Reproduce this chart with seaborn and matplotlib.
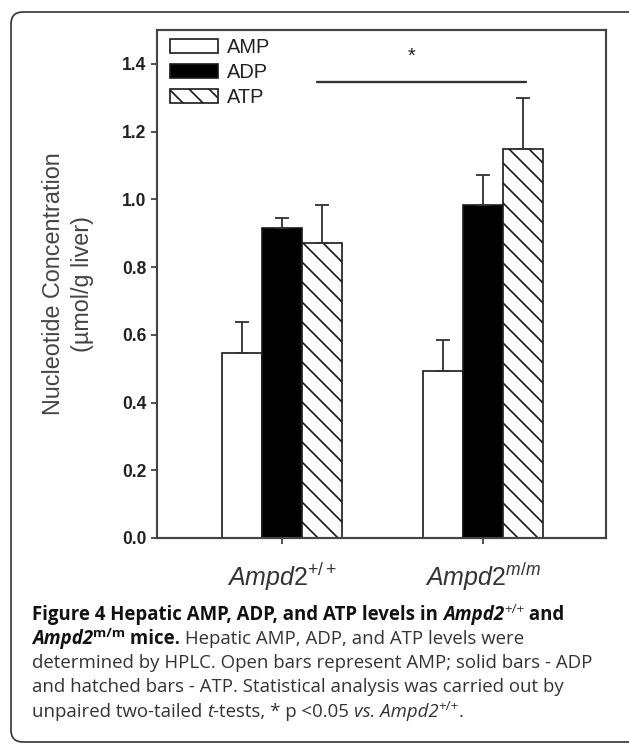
import numpy as np
import pandas as pd
import matplotlib
matplotlib.use("Agg")
import matplotlib.pyplot as plt
import seaborn as sns
from matplotlib.patches import FancyBboxPatch, Patch
from matplotlib.transforms import IdentityTransform

# ---------------- data ----------------
genotypes = ["Ampd2 +/+", "Ampd2 m/m"]
genotype_labels = [r"$\mathit{Ampd2}^{+/+}$", r"$\mathit{Ampd2}^{\mathit{m/m}}$"]
nucleotides = ["AMP", "ADP", "ATP"]
means_wt = [0.545, 0.914, 0.872]
means_mm = [0.492, 0.984, 1.149]
sem_wt = [0.092, 0.032, 0.112]
sem_mm = [0.092, 0.089, 0.151]
y_ticks = [0.0, 0.2, 0.4, 0.6, 0.8, 1.0, 1.2, 1.4]
sig_y = 1.347
sig_x = [0.174, 1.214]

df = pd.DataFrame({
    "genotype": [genotypes[0]] * 3 + [genotypes[1]] * 3,
    "nucleotide": nucleotides * 2,
    "value": means_wt + means_mm,
    "sem": sem_wt + sem_mm,
})

# ---------------- style ----------------
sns.set_theme(style="white")
plt.rcParams["font.family"] = ["Liberation Sans", "DejaVu Sans"]
plt.rcParams["mathtext.fontset"] = "custom"
plt.rcParams["mathtext.it"] = "Liberation Sans:italic"
plt.rcParams["mathtext.rm"] = "Liberation Sans"
plt.rcParams["mathtext.bf"] = "Liberation Sans:bold"
plt.rcParams["hatch.linewidth"] = 1.0
plt.rcParams["hatch.color"] = "#222222"

W, H, DPI = 629, 744, 120
fig = plt.figure(figsize=(W / DPI, H / DPI), dpi=DPI)
ax = fig.add_axes([157 / W, 1 - 538 / H, (606 - 157) / W, (538 - 30) / H])

palette = {"AMP": "white", "ADP": "black", "ATP": "white"}
sns.barplot(data=df, x="genotype", y="value", hue="nucleotide",
            hue_order=nucleotides, order=genotypes, palette=palette,
            saturation=1, width=0.6, gap=0, errorbar=None,
            edgecolor="#1a1a1a", linewidth=1.0, ax=ax, legend=False)

# hatching + error bars (upper only)
for nuc, cont in zip(nucleotides, ax.containers):
    sub = df[df["nucleotide"] == nuc].set_index("genotype").loc[genotypes]
    xs, ys = [], []
    for bar in cont:
        xs.append(bar.get_x() + bar.get_width() / 2)
        ys.append(bar.get_height())
        if nuc == "ATP":
            bar.set_hatch("\\\\")
    errs = sub["sem"].values
    ax.errorbar(xs, ys, yerr=[np.zeros_like(errs), errs], fmt="none",
                ecolor="#333333", elinewidth=1.1, capsize=4.2, capthick=1.1,
                zorder=1)

ax.set_xlim(-0.622, 1.612)
ax.set_ylim(0, 1.5)
ax.set_yticks(y_ticks)
ax.set_yticklabels([f"{v:.1f}" for v in y_ticks], fontweight="bold", fontsize=10.5, color="#222222")
ax.set_xticks([0, 1])
ax.set_xticklabels(genotype_labels, fontsize=15, color="#333333")
ax.tick_params(axis="both", direction="out", length=3.8, width=1.0, color="#333333",
               bottom=True, left=True, top=False, right=False)
ax.tick_params(axis="y", pad=2.5)
ax.tick_params(axis="x", pad=10)
for sp in ax.spines.values():
    sp.set_visible(True)
    sp.set_color("#444444")
    sp.set_linewidth(1.3)

ax.set_xlabel("")
ax.set_ylabel("Nucleotide Concentration\n(µmol/g liver)", fontsize=14,
              color="#444444", linespacing=1.3, labelpad=17)

# significance marker
ax.plot(sig_x, [sig_y, sig_y], color="#333333", lw=1.4)
ax.text(0.647, 1.395, "*", fontsize=12, ha="center", va="bottom", color="#222222")

# legend
handles = [Patch(facecolor=palette[n], edgecolor="#1a1a1a", linewidth=1.0,
                 hatch=("\\\\" if n == "ATP" else None)) for n in nucleotides]
ax.legend(handles, nucleotides, loc="upper left", bbox_to_anchor=(-0.008, 1.018),
          frameon=False, fontsize=12, handlelength=2.4, handleheight=0.7,
          handletextpad=0.45, labelspacing=0.3, borderpad=0.35,
          labelcolor="#222222")

# rounded border (right side runs past the image edge)
fig.patches.append(FancyBboxPatch((11, 2), 660, 730, boxstyle="round,pad=0,rounding_size=12",
                                  transform=IdentityTransform(), fill=False,
                                  edgecolor="#333333", linewidth=1.0, clip_on=False))

# caption
renderer = fig.canvas.get_renderer()
CFS = 11.2
CAP_FAM = ["Open Sans", "DejaVu Sans"]

def put_runs(runs, x0, y_base):
    x = x0
    for txt, weight, style, sup in runs:
        fs = CFS * (0.72 if sup else 1.0)
        dy = 7 if sup else 0
        t = fig.text(x, y_base + dy, txt, transform=IdentityTransform(),
                     fontsize=fs, fontweight=weight, fontstyle=style,
                     family=CAP_FAM, color="#333333" if weight == "normal" else "#111111",
                     ha="left", va="baseline")
        bb = t.get_window_extent(renderer)
        x = bb.x1

lines = [
    [("Figure 4 Hepatic AMP, ADP, and ATP levels in ", "bold", "normal", False),
     ("Ampd2", "bold", "italic", False), ("+/+", "normal", "normal", True),
     (" and", "bold", "normal", False)],
    [("Ampd2", "bold", "italic", False), ("m/m", "bold", "normal", True),
     (" mice.", "bold", "normal", False),
     (" Hepatic AMP, ADP, and ATP levels were", "normal", "normal", False)],
    [("determined by HPLC. Open bars represent AMP; solid bars - ADP", "normal", "normal", False)],
    [("and hatched bars - ATP. Statistical analysis was carried out by", "normal", "normal", False)],
    [("unpaired two-tailed ", "normal", "normal", False), ("t", "normal", "italic", False),
     ("-tests, * p <0.05 ", "normal", "normal", False), ("vs. Ampd2", "normal", "italic", False),
     ("+/+", "normal", "normal", True), (".", "normal", "normal", False)],
]
baselines = [620, 644, 668, 692, 717]
for runs, yb in zip(lines, baselines):
    put_runs(runs, 32, H - yb)

fig.savefig("out.png", dpi=DPI)
